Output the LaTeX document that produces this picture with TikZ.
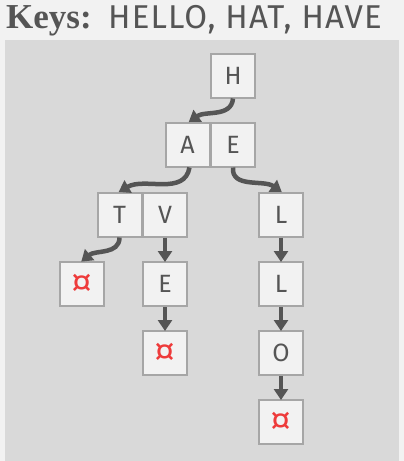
\documentclass[tikz,border=0pt]{standalone}
\usepackage{fontspec}
\setmainfont{Fira Sans}
\newfontfamily\keysfont{Liberation Serif}
\newfontfamily\wordsfont[LetterSpace=3.5]{Fira Sans}
\usetikzlibrary{arrows.meta}
\definecolor{trieBack}{HTML}{F2F2F2}
\definecolor{triePanel}{HTML}{D9D9D9}
\definecolor{trieCell}{HTML}{F2F2F2}
\definecolor{trieEdge}{HTML}{A6A6A6}
\definecolor{trieInk}{HTML}{555555}
\definecolor{trieEnd}{HTML}{EE3B3B}
\tikzset{
  trie cell/.style={draw=trieEdge, fill=trieCell, line width=2pt, minimum size=44pt, inner sep=0pt,
    font=\fontsize{25}{25}\selectfont, text=trieInk},
  trie stop/.style={trie cell, text=trieEnd, font=\fontsize{34}{34}\selectfont},
  trie link/.style={draw=trieInk, line width=4.5pt, -{Triangle[length=11pt,width=14pt]}, shorten >=-1pt},
  trie title/.style={text=trieInk, inner sep=0pt, anchor=base west},
}
\begin{document}
\begin{tikzpicture}[x=1pt, y=-1pt]
  % Background and panel
  \useasboundingbox (0,0) rectangle (404,461);
  \fill[trieBack] (0,0) rectangle (404,461);
  \fill[triePanel] (5,40) rectangle (399,461);

  % Title
  \node[trie title, font=\keysfont\bfseries\fontsize{35}{35}\selectfont] (keys) at (6,28) {Keys:};
  \node[trie title, font=\wordsfont\fontsize{33}{33}\selectfont] (words) at (108,28) {HELLO, HAT, HAVE};

  % Trie cells
  \node[trie cell] (h) at (233,75.5) {H};
  \node[trie cell] (a) at (187.5,144.5) {A};
  \node[trie cell] (e) at (233,144.5) {E};
  \node[trie cell] (t) at (119.5,214.5) {T};
  \node[trie cell] (v) at (165,214.5) {V};
  \node[trie cell] (l1) at (281,214.5) {L};
  \node[trie stop] (hatend) at (82,284) {¤};
  \node[trie cell] (e2) at (165,284) {E};
  \node[trie stop] (haveend) at (165,353) {¤};
  \node[trie cell] (l2) at (281,284) {L};
  \node[trie cell] (o) at (281,353) {O};
  \node[trie stop] (helloend) at (281,422) {¤};

  % Links between levels
  \draw[trie link] (h.south) to[out=-95, in=35] ([xshift=2pt]a.north);
  \draw[trie link] ([xshift=2pt]a.south) to[out=-100, in=30] (t.north);
  \draw[trie link] (e.south) to[out=-95, in=145] (l1.north);
  \draw[trie link] (t.south) to[out=-90, in=40] (hatend.north);
  \draw[trie link] (v) -- (e2);
  \draw[trie link] (e2) -- (haveend);
  \draw[trie link] (l1) -- (l2);
  \draw[trie link] (l2) -- (o);
  \draw[trie link] (o) -- (helloend);
\end{tikzpicture}
\end{document}
